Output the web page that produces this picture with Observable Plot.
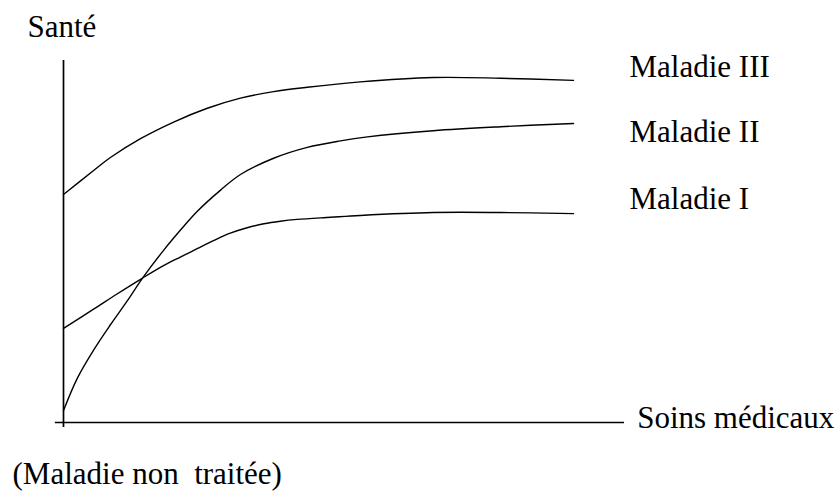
<!DOCTYPE html>
<html>
<head>
<meta charset="utf-8">
<script src="https://cdn.jsdelivr.net/npm/d3@7"></script>
<script src="https://cdn.jsdelivr.net/npm/@observablehq/plot@0.6"></script>
<style>
  body { margin: 0; background: #fff; }
</style>
</head>
<body>
<div id="chart"></div>
<script>
// Soins medicaux (x) and Sante (y), arbitrary units
const xIII = [0, 5.9, 9.2, 15.1, 21.6, 28.2, 34.7, 41.2, 47.8, 58.2, 72.5, 85.7, 100];
const yIII = [63.0, 69.6, 73.2, 78.4, 83.0, 86.8, 89.6, 91.4, 92.6, 94.1, 95.3, 95.1, 94.5];

const xII = [0, 2.7, 5.9, 9.2, 12.5, 15.5, 19.7, 22.9, 26.2, 30.8, 34.7, 41.2, 47.8, 54.3, 59.6, 72.5, 85.7, 100];
const yII = [3.3, 12.2, 20.0, 27.0, 33.6, 39.9, 47.7, 53.1, 58.3, 64.2, 68.5, 73.0, 76.0, 77.8, 78.9, 80.6, 81.7, 82.6];

const xI = [0, 5.9, 10.5, 15.5, 19.7, 22.9, 26.2, 29.5, 32.7, 36.0, 39.3, 42.5, 45.8, 52.4, 58.2, 72.5, 85.7, 100];
const yI = [26.0, 31.3, 35.5, 39.9, 43.4, 45.7, 48.0, 50.3, 52.3, 53.8, 54.9, 55.6, 56.1, 56.7, 57.2, 58.0, 58.0, 57.7];

const seriesNames = ["Maladie I", "Maladie II", "Maladie III"];
const yTitle = "Sant\u00e9";
const xTitle = "Soins m\u00e9dicaux";
const originNote = "(Maladie non\u00a0 trait\u00e9e)";

const rows = [
  ...xI.map((x, i) => ({series: seriesNames[0], x, y: yI[i]})),
  ...xII.map((x, i) => ({series: seriesNames[1], x, y: yII[i]})),
  ...xIII.map((x, i) => ({series: seriesNames[2], x, y: yIII[i]}))
];

const txt = (s, anchor, dx, dy) => Plot.text([s], {
  frameAnchor: anchor, dx, dy, text: d => d,
  textAnchor: "start", lineAnchor: "top",
  fontSize: 31, fontFamily: "Liberation Serif"
});

const chart = Plot.plot({
  width: 840,
  height: 498,
  marginLeft: 63,
  marginRight: 216,
  marginTop: 60,
  marginBottom: 76,
  x: {domain: [0, 110], axis: null},
  y: {domain: [0, 100], axis: null},
  marks: [
    Plot.ruleX([0], {y1: -1.4, y2: 100, stroke: "black", strokeWidth: 1.7}),
    Plot.ruleY([0], {x1: -1.6, x2: 110, stroke: "black", strokeWidth: 1.7}),
    Plot.line(rows, {x: "x", y: "y", z: "series", stroke: "black", strokeWidth: 1.4, curve: "catmull-rom"}),
    txt(yTitle, "top-left", -36, -46),
    txt(seriesNames[2], "top-right", 5, -6),
    txt(seriesNames[1], "top-right", 5, 59.7),
    txt(seriesNames[0], "top-right", 5, 126.3),
    txt(xTitle, "bottom-right", 12.7, -17),
    txt(originNote, "bottom-left", -51, 39)
  ]
});
document.getElementById("chart").appendChild(chart);
</script>
</body>
</html>
